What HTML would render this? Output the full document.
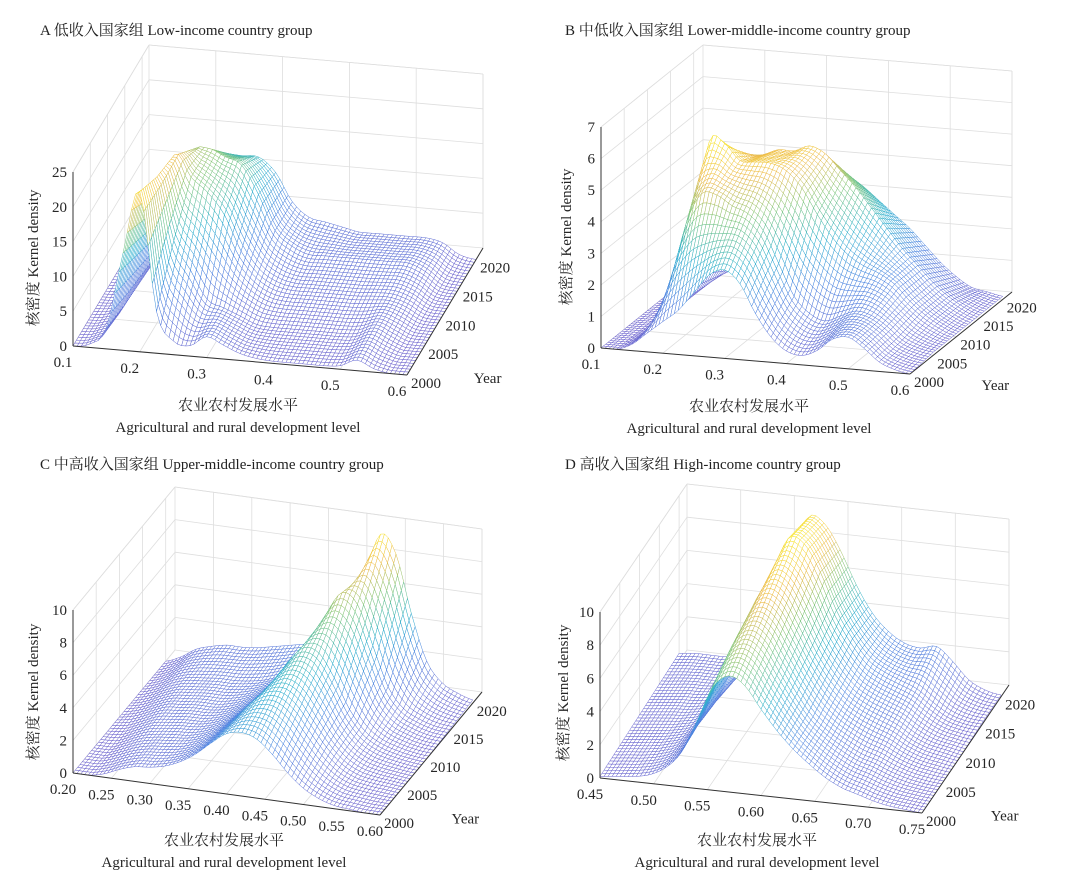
<!DOCTYPE html>
<html><head><meta charset="utf-8">
<style>
html,body{margin:0;padding:0;background:#fff;}
svg{display:block;font-family:"Liberation Serif","Noto Serif CJK SC",serif;}
</style></head>
<body>
<svg id="chart" width="1080" height="882" viewBox="0 0 1080 882" xmlns="http://www.w3.org/2000/svg">
<rect width="1080" height="882" fill="#fff"/>
<text x="40" y="35" font-size="15" fill="#222">A 低收入国家组 Low-income country group</text>
<text x="565" y="35" font-size="15" fill="#222">B 中低收入国家组 Lower-middle-income country group</text>
<text x="40" y="469" font-size="15" fill="#222">C 中高收入国家组 Upper-middle-income country group</text>
<text x="565" y="469" font-size="15" fill="#222">D 高收入国家组 High-income country group</text>
</svg>
<script>
// ---- data (kernel density, rows = years, cols = development-level grid) ----
const dataYears = [2000, 2005, 2010, 2015, 2020];
const yearTicks = [2000, 2005, 2010, 2015, 2020];

const levelsA = [0.100,0.125,0.150,0.175,0.200,0.225,0.250,0.275,0.300,0.325,0.350,0.375,0.400,0.425,0.450,0.475,0.500,0.525,0.550,0.575,0.600];
const densA2000 = [0,0.5,3,14,23,6,2,1.5,3,2,1,0.5,0.3,0.3,0.3,0.3,0.5,1.5,0.5,0,0];
const densA2005 = [0,0.3,2,12,21,12,8,4,3,2,1,0.8,0.8,0.8,0.8,0.8,1,2,1,0,0];
const densA2010 = [0,0.2,1.5,10,20,17,15,12,7,4,2.5,2,2,2,2,2,2.2,2.2,1.5,0.2,0];
const densA2015 = [0,0.2,1,7,16,17,16,15,11,6,4,3,3,3,3,3,3,3,2,0.3,0];
const densA2020 = [0,0.1,0.5,4,11,12,12,12,10,6,4,3.5,3,2.5,2.5,2.5,2.5,2.5,2,0.5,0];
const xTicksA = [0.1,0.2,0.3,0.4,0.5,0.6];
const zTicksA = [0,5,10,15,20,25];

const levelsB = [0.100,0.125,0.150,0.175,0.200,0.225,0.250,0.275,0.300,0.325,0.350,0.375,0.400,0.425,0.450,0.475,0.500,0.525,0.550,0.575,0.600];
const densB2000 = [0,0,0.2,0.6,1.0,1.4,2.0,2.6,2.8,2.4,1.5,0.8,0.4,0.3,0.5,0.9,1.0,0.7,0.3,0.1,0];
const densB2005 = [0,0,0.3,1.5,3.5,4.5,4.5,4.2,4.0,3.5,2.5,1.5,1.0,0.8,1.0,1.2,1.1,0.8,0.4,0.2,0.1];
const densB2010 = [0,0,0.3,2.5,5.5,5.5,5.0,5.0,5.0,4.8,4.3,3.5,2.8,2.3,2.0,1.8,1.5,1.0,0.6,0.3,0.1];
const densB2015 = [0,0,0.2,1.5,4.0,4.5,4.6,4.8,4.8,5.0,4.8,4.3,3.8,3.2,2.6,2.0,1.5,1.0,0.6,0.3,0.1];
const densB2020 = [0,0,0.1,0.5,2.0,3.0,3.3,3.5,3.6,3.7,3.5,3.2,2.8,2.4,2.0,1.5,1.0,0.6,0.3,0.2,0.1];
const xTicksB = [0.1,0.2,0.3,0.4,0.5,0.6];
const zTicksB = [0,1,2,3,4,5,6,7];

const levelsC = [0.20,0.22,0.24,0.26,0.28,0.30,0.32,0.34,0.36,0.38,0.40,0.42,0.44,0.46,0.48,0.50,0.52,0.54,0.56,0.58,0.60];
const densC2000 = [0,0,0.2,0.6,0.9,1.0,1.2,1.6,2.2,3.0,3.7,3.9,3.6,2.8,1.8,1.0,0.5,0.2,0.1,0,0];
const densC2005 = [0,0,0.4,0.8,1.0,1.1,1.2,1.5,2.0,2.8,3.8,4.6,4.8,4.2,3.0,1.8,0.9,0.4,0.2,0.1,0];
const densC2010 = [0,0.2,0.6,1.0,1.1,1.2,1.2,1.4,1.8,2.4,3.4,4.8,5.8,5.6,4.2,2.4,1.2,0.6,0.3,0.1,0];
const densC2015 = [0,0.3,0.8,1.1,1.2,1.3,1.3,1.4,1.6,2.0,2.8,4.2,6.2,7.6,7.0,4.6,2.2,1.0,0.5,0.2,0.1];
const densC2020 = [0,0.4,1.0,1.3,1.5,1.5,1.6,1.8,2.0,2.2,2.4,2.6,4.0,7.0,9.6,8.5,5.0,2.2,1.0,0.5,0.2];
const xTicksC = [0.20,0.25,0.30,0.35,0.40,0.45,0.50,0.55,0.60];
const zTicksC = [0,2,4,6,8,10];

const levelsD = [0.450,0.465,0.480,0.495,0.510,0.525,0.540,0.555,0.570,0.585,0.600,0.615,0.630,0.645,0.660,0.675,0.690,0.705,0.720,0.735,0.750];
const densD2000 = [0.1,0.2,0.3,0.5,1.0,2.0,4.0,6.2,7.0,6.5,5.2,4.0,3.0,2.2,1.5,1.0,0.7,0.4,0.2,0.1,0];
const densD2005 = [0.2,0.3,0.4,0.6,1.0,2.2,4.5,7.0,8.0,7.5,6.0,4.5,3.2,2.4,1.8,1.3,1.0,0.6,0.3,0.1,0];
const densD2010 = [0.3,0.4,0.5,0.6,0.9,2.0,4.5,7.5,9.0,8.6,7.0,5.2,3.8,2.8,2.2,1.8,1.4,0.8,0.4,0.2,0];
const densD2015 = [0.4,0.5,0.6,0.6,0.8,1.5,3.5,7.5,10.0,9.8,8.2,6.0,4.4,3.2,2.6,2.2,1.8,1.1,0.5,0.2,0.1];
const densD2020 = [0.5,0.6,0.6,0.6,0.7,1.0,2.5,6.5,9.5,9.3,7.8,5.8,4.2,3.2,2.6,2.4,2.6,1.8,0.8,0.3,0.1];
const xTicksD = [0.45,0.50,0.55,0.60,0.65,0.70,0.75];
const zTicksD = [0,2,4,6,8,10];

// ---- layout (not data) ----
const panels = [
 {id:'a', O:[73,346], xv:[334,29], yv:[76,-127], zh:174, zmax:25, levels:levelsA, rows:[densA2000,densA2005,densA2010,densA2015,densA2020], xt:xTicksA, zt:zTicksA, dec:1, t1:[165,410], t2:[165,432], zt_pos:[33,258]},
 {id:'b', O:[601,348], xv:[309,26], yv:[102,-82], zh:221, zmax:7, levels:levelsB, rows:[densB2000,densB2005,densB2010,densB2015,densB2020], xt:xTicksB, zt:zTicksB, dec:1, t1:[148,411], t2:[148,433], zt_pos:[566,237]},
 {id:'c', O:[73,773], xv:[307,42], yv:[102,-123], zh:163, zmax:10, levels:levelsC, rows:[densC2000,densC2005,densC2010,densC2015,densC2020], xt:xTicksC, zt:zTicksC, dec:2, t1:[151,845], t2:[151,867], zt_pos:[33,692]},
 {id:'d', O:[600,778], xv:[322,35], yv:[87,-128], zh:166, zmax:10, levels:levelsD, rows:[densD2000,densD2005,densD2010,densD2015,densD2020], xt:xTicksD, zt:zTicksD, dec:2, t1:[157,845], t2:[157,867], zt_pos:[563,693]}
];
const Y0 = 2000, Y1 = 2022;
const svg = document.getElementById('chart');
const NS = 'http://www.w3.org/2000/svg';

const stops = [[0,[105,95,205]],[0.3,[70,130,225]],[0.5,[40,175,205]],[0.7,[125,198,120]],[0.86,[238,185,70]],[1,[248,228,40]]];
function cmap(t){
  t=Math.max(0,Math.min(1,t));
  for(let i=1;i<stops.length;i++){
    if(t<=stops[i][0]){
      const a=stops[i-1],b=stops[i],f=(t-a[0])/(b[0]-a[0]);
      const c=a[1].map((v,k)=>Math.round(v+(b[1][k]-v)*f));
      return 'rgb('+c.join(',')+')';
    }
  }
  return 'rgb(248,228,40)';
}
function el(tag, attrs, parent){
  const e=document.createElementNS(NS,tag);
  for(const k in attrs) e.setAttribute(k, attrs[k]);
  parent.appendChild(e); return e;
}

panels.forEach(p=>{
  const g=el('g',{},svg);
  
  
  const x0=p.levels[0], x1=p.levels[p.levels.length-1];
  const n=p.levels.length;
  function P(x,yr,z){
    const fx=(x-x0)/(x1-x0), fy=(yr-Y0)/(Y1-Y0), fz=z/p.zmax;
    return [p.O[0]+p.xv[0]*fx+p.yv[0]*fy, p.O[1]+p.xv[1]*fx+p.yv[1]*fy-p.zh*fz];
  }
  function line(a,b,stroke,w,parent,name){
    const l=el('line',{x1:a[0].toFixed(1),y1:a[1].toFixed(1),x2:b[0].toFixed(1),y2:b[1].toFixed(1),stroke:stroke,'stroke-width':w},parent);
    
    
    return l;
  }
  const grid=el('g',{},g);
  
  
  const gc='#dedede';
  p.xt.forEach(x=>{
    line(P(x,Y1,0),P(x,Y1,p.zmax),gc,0.8,grid,'grid-line');
    line(P(x,Y0,0),P(x,Y1,0),gc,0.8,grid,'grid-line');
  });
  yearTicks.forEach(y=>{
    line(P(x0,y,0),P(x0,y,p.zmax),gc,0.8,grid,'grid-line');
    line(P(x0,y,0),P(x1,y,0),gc,0.8,grid,'grid-line');
  });
  p.zt.forEach(z=>{
    line(P(x0,Y0,z),P(x0,Y1,z),gc,0.8,grid,'grid-line');
    line(P(x0,Y1,z),P(x1,Y1,z),gc,0.8,grid,'grid-line');
  });
  line(P(x0,Y1,p.zmax),P(x1,Y1,p.zmax),gc,0.8,grid,'grid-line');
  line(P(x1,Y1,0),P(x1,Y1,p.zmax),gc,0.8,grid,'grid-line');
  line(P(x0,Y0,p.zmax),P(x0,Y1,p.zmax),gc,0.8,grid,'grid-line');

  let dmax=0; p.rows.forEach(r=>r.forEach(v=>{if(v>dmax)dmax=v;}));
  // cubic (Catmull-Rom) along the level axis, linear between data years
  function rowAt(row, xi){
    let c=Math.min(Math.floor(xi),n-2), t=xi-c;
    const p0=row[Math.max(c-1,0)], p1=row[c], p2=row[c+1], p3=row[Math.min(c+2,n-1)];
    const v=0.5*((2*p1)+(-p0+p2)*t+(2*p0-5*p1+4*p2-p3)*t*t+(-p0+3*p1-3*p2+p3)*t*t*t);
    return Math.max(0,v);
  }
  function val(xi, yr){
    let ry=(yr-dataYears[0])/(dataYears[1]-dataYears[0]);
    let r0=Math.min(Math.floor(ry),dataYears.length-2), fr=ry-r0;
    const va=rowAt(p.rows[r0],xi), vb=rowAt(p.rows[r0+1],xi);
    return va+(vb-va)*fr;
  }
  function xat(xi){
    let c0=Math.min(Math.floor(xi),n-2), fc=xi-c0;
    return p.levels[c0]+(p.levels[c0+1]-p.levels[c0])*fc;
  }
  const surf=el('g',{fill:'#fff','stroke-width':0.5,'stroke-linejoin':'round'},g);
  
  
  const sub=4, nx=(n-1)*sub, yStep=0.5;
  const yMax=dataYears[dataYears.length-1];
  for(let yr=yMax-yStep; yr>=dataYears[0]-1e-9; yr-=yStep){
    for(let i=0;i<nx;i++){
      const xa=i/sub, xb=(i+1)/sub;
      const v00=val(xa,yr), v10=val(xb,yr), v01=val(xa,yr+yStep), v11=val(xb,yr+yStep);
      const q=[P(xat(xa),yr,v00),P(xat(xb),yr,v10),P(xat(xb),yr+yStep,v11),P(xat(xa),yr+yStep,v01)];
      const d='M'+q.map(pt=>pt[0].toFixed(1)+','+pt[1].toFixed(1)).join('L')+'Z';
      const path=el('path',{d:d,stroke:cmap(((v00+v10+v01+v11)/4)/dmax)},surf);
      
      
    }
  }

  const ax=el('g',{},g);
  
  
  line(P(x0,Y0,0),P(x1,Y0,0),'#333',1,ax,'x-axis-line');
  line(P(x1,Y0,0),P(x1,Y1,0),'#333',1,ax,'year-axis-line');
  line(P(x0,Y0,0),P(x0,Y0,p.zmax),'#333',1,ax,'z-axis-line');
  p.xt.forEach(x=>{
    const pt=P(x,Y0,0);
    const t=el('text',{x:(pt[0]-10).toFixed(1),y:(pt[1]+21).toFixed(1),'text-anchor':'middle','font-size':15,fill:'#262626'},ax);
    
    
    t.textContent=x.toFixed(p.dec);
  });
  yearTicks.forEach(y=>{
    const pt=P(x1,y,0);
    const t=el('text',{x:(pt[0]+4).toFixed(1),y:(pt[1]+13).toFixed(1),'font-size':15,fill:'#262626'},ax);
    
    
    t.textContent=y;
  });
  p.zt.forEach(z=>{
    const pt=P(x0,Y0,z);
    const t=el('text',{x:(pt[0]-6).toFixed(1),y:(pt[1]+5).toFixed(1),'text-anchor':'end','font-size':15,fill:'#262626'},ax);
    
    
    t.textContent=z;
  });
  const yp=P(x1,2004,0);
  const yl=el('text',{x:(yp[0]+53).toFixed(1),y:(yp[1]+31).toFixed(1),'font-size':15,fill:'#262626'},ax);
  
  
  yl.textContent='Year';
  const t1=el('text',{x:p.O[0]+p.t1[0],y:p.t1[1],'text-anchor':'middle','font-size':15,fill:'#262626'},ax);
  
  
  t1.textContent='农业农村发展水平';
  const t2=el('text',{x:p.O[0]+p.t2[0],y:p.t2[1],'text-anchor':'middle','font-size':15,fill:'#262626'},ax);
  
  
  t2.textContent='Agricultural and rural development level';
  const zt=el('text',{x:0,y:0,'text-anchor':'middle','font-size':15,fill:'#262626',transform:'translate('+(p.zt_pos[0]+5)+','+p.zt_pos[1]+') rotate(-90)'},ax);
  
  
  zt.textContent='核密度 Kernel density';
});
</script>
</body></html>
